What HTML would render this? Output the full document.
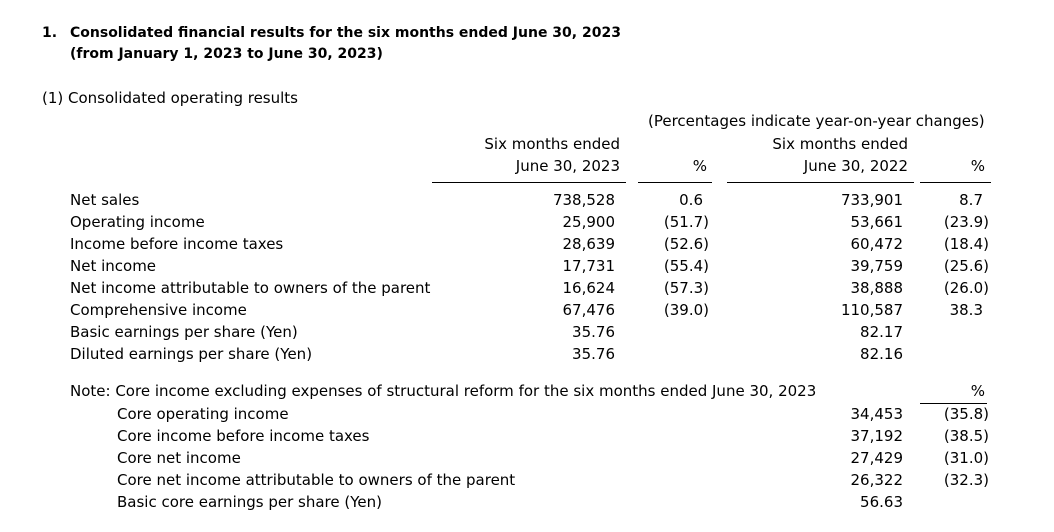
<!DOCTYPE html>
<html><head><meta charset="utf-8"><style>
body{margin:0;width:1054px;height:532px;background:#fff;position:relative;overflow:hidden;font-family:"DejaVu Sans","Liberation Sans",sans-serif;color:#000;font-size:15px}
.t{position:absolute;white-space:nowrap;line-height:18px}
.b{font-weight:bold;font-size:14px}
.r{text-align:right}
.ln{position:absolute;height:1px;background:#000}
</style></head><body>
<div class="t b" style="left:42px;top:24px">1.</div>
<div class="t b" style="left:70px;top:24px">Consolidated financial results for the six months ended June 30, 2023</div>
<div class="t b" style="left:70px;top:45px">(from January 1, 2023 to June 30, 2023)</div>
<div class="t" style="left:42px;top:89px">(1) Consolidated operating results</div>
<div class="t" style="left:648px;top:112px">(Percentages indicate year-on-year changes)</div>

<div class="t r" style="right:434px;top:135px">Six months ended</div>
<div class="t r" style="right:434px;top:157px">June 30, 2023</div>
<div class="t r" style="right:347px;top:157px">%</div>
<div class="t r" style="right:146px;top:135px">Six months ended</div>
<div class="t r" style="right:146px;top:157px">June 30, 2022</div>
<div class="t r" style="right:69px;top:157px">%</div>
<div class="ln" style="left:432px;width:194px;top:182px"></div>
<div class="ln" style="left:638px;width:74px;top:182px"></div>
<div class="ln" style="left:727px;width:187px;top:182px"></div>
<div class="ln" style="left:920px;width:71px;top:182px"></div>

<div id="rows"></div>
<div class="t" style="left:70px;top:382px">Note: Core income excluding expenses of structural reform for the six months ended June 30, 2023</div>
<div class="t r" style="right:69px;top:382px">%</div>
<div class="ln" style="left:920px;width:67px;top:403px"></div>
<div id="core"></div>
<script>
const labels=["Net sales","Operating income","Income before income taxes","Net income","Net income attributable to owners of the parent","Comprehensive income","Basic earnings per share (Yen)","Diluted earnings per share (Yen)"];
const v2023=["738,528","25,900","28,639","17,731","16,624","67,476","35.76","35.76"];
const p2023=["0.6","(51.7)","(52.6)","(55.4)","(57.3)","(39.0)","",""];
const v2022=["733,901","53,661","60,472","39,759","38,888","110,587","82.17","82.16"];
const p2022=["8.7","(23.9)","(18.4)","(25.6)","(26.0)","38.3","",""];
const coreLabels=["Core operating income","Core income before income taxes","Core net income","Core net income attributable to owners of the parent","Basic core earnings per share (Yen)"];
const coreVals=["34,453","37,192","27,429","26,322","56.63"];
const corePct=["(35.8)","(38.5)","(31.0)","(32.3)",""];
function cell(parent,text,left,right,top,name){
  const d=document.createElement('div');
  d.className='t'+(right!=null?' r':'');
  if(left!=null)d.style.left=left+'px';
  if(right!=null)d.style.right=right+'px';
  d.style.top=top+'px';
  d.textContent=text;
  
  
  parent.appendChild(d);
}
function pctRight(s,base){return s.startsWith('(')?base:base+6;}
const R=document.getElementById('rows');
labels.forEach((l,i)=>{
  const y=191+i*22;
  cell(R,l,70,null,y,'row-label');
  cell(R,v2023[i],null,439,y,'value-2023');
  if(p2023[i])cell(R,p2023[i],null,pctRight(p2023[i],345),y,'pct-2023');
  cell(R,v2022[i],null,151,y,'value-2022');
  if(p2022[i])cell(R,p2022[i],null,pctRight(p2022[i],65),y,'pct-2022');
});
const C=document.getElementById('core');
coreLabels.forEach((l,i)=>{
  const y=405+i*22;
  cell(C,l,117,null,y,'core-row-label');
  cell(C,coreVals[i],null,151,y,'core-value');
  if(corePct[i])cell(C,corePct[i],null,65,y,'core-pct');
});
</script>
</body></html>
